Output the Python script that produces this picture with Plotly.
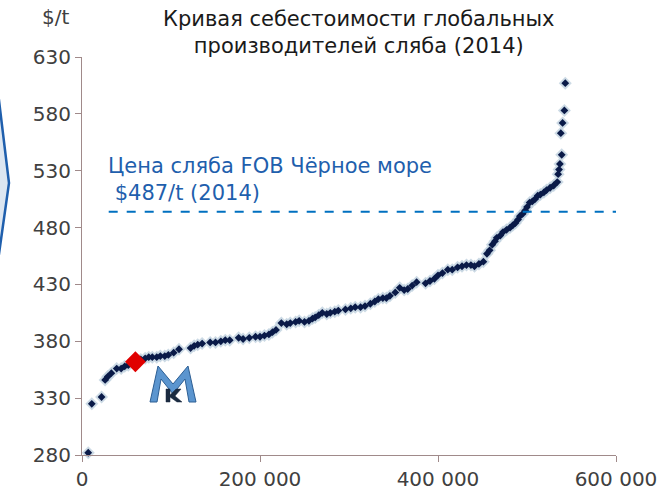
import plotly.graph_objects as go

# ---- data ----
capacity_x = [7000, 11000, 22000, 26000, 29000, 33000, 39000, 44000, 48000, 52000,
              66000, 71000, 75000, 79000, 84000, 88000, 93000, 97000, 103000, 109000,
              122000, 126000, 130000, 135000, 144000, 150000, 156000, 161000, 166000, 176000,
              181000, 188000, 195000, 200000, 205000, 210000, 214000, 218000, 224000, 230000,
              234000, 240000, 244000, 250000, 255000, 259000, 262000, 266000, 270000, 275000,
              279000, 284000, 288000, 296000, 302000, 307000, 313000, 318000, 324000, 329000,
              333000, 338000, 342000, 346000, 352000, 357000, 362000, 366000, 371000, 376000,
              386000, 391000, 396000, 400000, 405000, 411000, 416000, 422000, 427000, 432000,
              437000, 441000, 446000, 451000, 455000, 458000, 461000, 464000, 466000, 470000,
              473000, 477000, 481000, 484000, 487000, 490000, 492000, 495000, 498000, 500000,
              503000, 506000, 509000, 512000, 515000, 519000, 522000, 526000, 530000, 534000,
              535000, 536000, 537000, 539000, 538000, 540000, 542000, 543000]
cost_y = [282, 325, 331, 346, 349, 352, 356, 356, 358, 359,
          364, 365, 366, 366, 366, 367, 367, 368, 370, 373,
          374, 376, 377, 378, 379, 379, 380, 381, 381, 383,
          382, 383, 384, 384, 385, 386, 388, 390, 396, 395,
          396, 397, 398, 397, 398, 400, 401, 403, 405, 404,
          405, 406, 407, 408, 409, 410, 410, 411, 413, 415,
          417, 418, 418, 420, 423, 427, 425, 426, 429, 432,
          431, 433, 435, 438, 440, 443, 443, 445, 446, 447,
          447, 446, 448, 450, 457, 460, 465, 468, 471, 473,
          476, 478, 480, 482, 484, 487, 490, 492, 495, 498,
          502, 503, 505, 508, 509, 511, 513, 515, 517, 520,
          527, 531, 536, 544, 563, 572, 583, 607]

mmk_x = [60000]
mmk_y = [362]

price_line_y = 494
price_line_x = [30000, 600000]

x_tickvals = [0, 200000, 400000, 600000]
x_ticktext = ["0", "200 000", "400 000", "600 000"]
y_tickvals = [280, 330, 380, 430, 480, 530, 580, 630]

title_text = "Кривая себестоимости глобальных<br>производителей сляба (2014)"
price_text = "Цена сляба FOB Чёрное море<br> $487/t (2014)"
y_unit = "$/t"

# ---- layout geometry ----
W, H = 659, 492
L, R, T, B = 82, 43, 57, 37
PW, PH = W - L - R, H - T - B


def px(x):
    return (x - L) / PW


def py(y):
    return (H - B - y) / PH


fig = go.Figure()

# glow behind markers
fig.add_trace(go.Scatter(
    x=capacity_x, y=cost_y, mode="markers",
    marker=dict(symbol="diamond", size=10, color="rgba(195,212,225,0.85)"),
    hoverinfo="skip", showlegend=False, cliponaxis=False))
fig.add_trace(go.Scatter(
    x=capacity_x, y=cost_y, mode="markers",
    marker=dict(symbol="diamond", size=6, color="#0A1A48"),
    showlegend=False, cliponaxis=False))
fig.add_trace(go.Scatter(
    x=mmk_x, y=mmk_y, mode="markers",
    marker=dict(symbol="diamond", size=16, color="#E00000"),
    showlegend=False, cliponaxis=False))

shapes = []
# price line
shapes.append(dict(type="line", xref="x", yref="y",
                   x0=price_line_x[0], x1=price_line_x[1],
                   y0=price_line_y, y1=price_line_y,
                   line=dict(color="#0070C0", width=2, dash="dash")))

# decorative chevron on the left edge
chev = [(-3, 84), (9, 183), (-3, 268)]
path = "M " + " L ".join(f"{px(a)},{py(b)}" for a, b in chev)
shapes.append(dict(type="path", xref="paper", yref="paper", path=path + " Z",
                   fillcolor="#DCE6F1", line=dict(color="#1F5FAD", width=2.5)))

# MMK logo (simplified)
m_pts = [(150, 402), (158, 366), (173, 384), (188, 366), (196, 402), (189, 402),
         (185, 379), (173, 394), (161, 379), (157, 402)]
path = "M " + " L ".join(f"{px(a)},{py(b)}" for a, b in m_pts) + " Z"
shapes.append(dict(type="path", xref="paper", yref="paper", path=path,
                   fillcolor="#5B95CF", line=dict(color="#2C5E93", width=1)))
k_pts = [(166, 402), (166, 389), (170, 389), (170, 395), (176, 389), (181, 389),
         (175, 396), (182, 402), (177, 402), (170, 397), (170, 402)]
path = "M " + " L ".join(f"{px(a)},{py(b)}" for a, b in k_pts) + " Z"
shapes.append(dict(type="path", xref="paper", yref="paper", path=path,
                   fillcolor="#1B2B40", line=dict(color="#1B2B40", width=0.5)))

annotations = [
    dict(text=title_text, xref="paper", yref="paper", x=px(359), y=py(5),
         xanchor="center", yanchor="top", showarrow=False, align="center",
         font=dict(family="DejaVu Sans", size=21, color="#1a1a1a")),
    dict(text=price_text, xref="paper", yref="paper", x=px(106), y=py(152),
         xanchor="left", yanchor="top", showarrow=False, align="left",
         font=dict(family="DejaVu Sans", size=21, color="#1F5FAD")),
    dict(text=y_unit, xref="paper", yref="paper", x=px(55), y=py(3),
         xanchor="center", yanchor="top", showarrow=False,
         font=dict(family="DejaVu Sans", size=20, color="#404040")),
]

axis_col = "#A08A8A"
fig.update_layout(
    width=W, height=H,
    margin=dict(l=L, r=R, t=T, b=B, pad=0),
    paper_bgcolor="white", plot_bgcolor="white",
    shapes=shapes, annotations=annotations,
    xaxis=dict(range=[0, 600000], tickvals=x_tickvals, ticktext=x_ticktext,
               showgrid=False, zeroline=False, showline=True, linecolor=axis_col,
               linewidth=1, ticks="outside", ticklen=6, tickcolor=axis_col,
               automargin=False,
               tickfont=dict(family="DejaVu Sans", size=20, color="#404040")),
    yaxis=dict(range=[280, 630], tickvals=y_tickvals,
               showgrid=False, zeroline=False, showline=True, linecolor=axis_col,
               linewidth=1, ticks="outside", ticklen=6, tickcolor=axis_col,
               automargin=False,
               tickfont=dict(family="DejaVu Sans", size=20, color="#404040")),
)

fig.write_html("out.html",
               config={"displayModeBar": False},
               post_script="document.body.style.margin='0';document.body.style.overflow='hidden';")
